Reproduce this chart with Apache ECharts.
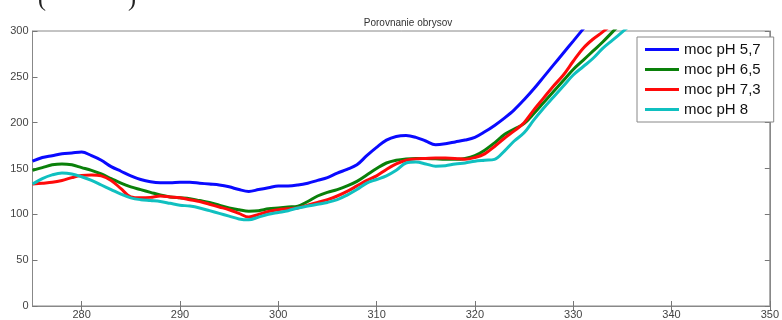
<!DOCTYPE html>
<html>
<head>
<meta charset="utf-8">
<script src="https://cdn.jsdelivr.net/npm/echarts@6/dist/echarts.min.js"></script>
<style>
  html, body { margin: 0; padding: 0; background: #fff; }
  #chart { width: 782px; height: 320px; }
</style>
</head>
<body>
<div id="chart"></div>
<script>
// Wavelength positions (x) shared by every curve
const xValues = [
  275, 276, 277, 278, 279, 280, 281, 282, 283, 284, 285, 286, 287, 288, 289,
  290, 291, 292, 293, 294, 295, 296, 297, 298, 299, 300, 301, 302, 303, 304,
  305, 306, 307, 308, 309, 310, 311, 312, 313, 314, 315, 316, 317, 318, 319,
  320, 321, 322, 323, 324, 325, 326, 327, 328, 329, 330, 331, 332, 333, 334,
  335, 336
];

// moc pH 5,7
const ph57 = [
  158, 162, 164, 166, 167, 168, 164, 159, 152, 147, 142, 138, 135.5, 134.5, 134.5,
  135, 135, 134, 133, 132, 130, 127, 125, 127, 129, 131, 131, 132, 134, 137,
  140, 145, 149, 154, 164, 173, 181, 185, 186, 184, 180, 176, 177, 179, 181,
  184, 190, 197, 205, 214, 225, 237, 250, 263, 276, 289, 302, 315
];

// moc pH 6,5
const ph65 = [
  148, 151, 154, 155, 154, 151, 148, 144, 139, 134, 130, 127, 124, 121, 119,
  118, 117, 115, 113, 110, 107, 105, 103.5, 104, 106, 107, 108, 109, 114, 120,
  124, 127, 131, 136, 143, 150, 156, 159, 160.5, 161, 161, 160.5, 160, 160, 161,
  164, 170, 178, 187, 193, 199, 210, 222, 234, 246, 258, 268, 278, 288, 299,
  310
];

// moc pH 7,3
const ph73 = [
  133, 134, 135, 137, 140, 142.5, 143, 142, 137, 128, 119, 118, 118.5, 120, 119,
  118, 116, 114, 111, 108, 105, 101, 97, 100, 103, 105, 106, 107, 110, 113,
  116, 120, 125, 131, 137, 142, 149, 155, 159, 160.5, 161, 161.5, 161.5, 161, 160,
  162, 166, 174, 183, 191, 200, 214, 227, 240, 252, 267, 281, 291, 299, 308
];

// moc pH 8
const ph8 = [
  133, 139, 143, 145, 144, 141, 137, 132, 127, 122, 118, 116, 115, 114, 112,
  110, 109, 107, 104, 101, 98, 95, 94, 97, 100, 102, 104, 107, 109, 111,
  113, 116, 121, 127, 134, 138, 142, 148, 156, 157, 155, 152.5, 153, 155, 156,
  158, 159, 160, 169, 180, 189, 203, 216, 228, 240, 252, 261, 270, 281, 290,
  299, 308
];

const seriesNames = ['moc pH 5,7', 'moc pH 6,5', 'moc pH 7,3', 'moc pH 8'];
const seriesColors = ['#0a0aff', '#0a800a', '#ff0a0a', '#10c0c0'];
const seriesValues = [ph57, ph65, ph73, ph8];

// Axis ranges and tick positions
const xRange = { min: 275, max: 350 };
const xTickValues = [280, 290, 300, 310, 320, 330, 340, 350];
const yRange = { min: 0, max: 300, interval: 50 };

const pairs = vals => vals.map((v, i) => [xValues[i], v]);

const tickLine = { color: '#777' };
const labelFont = { fontFamily: 'Liberation Sans, Arial, sans-serif', fontSize: 11, color: '#444' };
const axisLineStyle = { show: true, lineStyle: { color: '#888' } };

const chart = echarts.init(document.getElementById('chart'), null, { renderer: 'canvas' });

chart.setOption({
  animation: false,
  backgroundColor: '#fff',
  title: {
    text: 'Porovnanie obrysov',
    left: 403,
    top: 13,
    textAlign: 'center',
    textStyle: { fontFamily: 'Liberation Sans, Arial, sans-serif', fontSize: 10, fontWeight: 'normal', color: '#333' }
  },
  graphic: [
    { type: 'text', left: 38, top: -12, style: { text: '(', font: '24px "Liberation Serif", serif', fill: '#222' } },
    { type: 'text', left: 128, top: -12, style: { text: ')', font: '24px "Liberation Serif", serif', fill: '#222' } }
  ],
  grid: {
    left: 32.5, right: 8, top: 31, bottom: 13,
    show: true, borderColor: '#888', borderWidth: 1, backgroundColor: '#fff'
  },
  legend: {
    orient: 'vertical',
    left: 637, top: 37,
    padding: [4, 13, 4, 8],
    itemWidth: 34, itemHeight: 3, itemGap: 3,
    icon: 'rect',
    backgroundColor: '#fff',
    borderColor: '#888', borderWidth: 1, borderRadius: 0,
    textStyle: { fontFamily: 'Liberation Sans, Arial, sans-serif', fontSize: 15, color: '#111', lineHeight: 17 },
    data: seriesNames
  },
  xAxis: [
    {
      type: 'value', position: 'bottom', ...xRange,
      axisLine: axisLineStyle,
      axisTick: { show: true, inside: true, length: 5, lineStyle: tickLine, customValues: xTickValues },
      axisLabel: { ...labelFont, margin: 3, customValues: xTickValues },
      splitLine: { show: false }
    },
    {
      type: 'value', position: 'top', ...xRange,
      axisLine: axisLineStyle,
      axisTick: { show: true, inside: true, length: 5, lineStyle: tickLine, customValues: xTickValues },
      axisLabel: { show: false },
      splitLine: { show: false }
    }
  ],
  yAxis: [
    {
      type: 'value', position: 'left', ...yRange,
      axisLine: axisLineStyle,
      axisTick: { show: true, inside: true, length: 5, lineStyle: tickLine },
      axisLabel: { ...labelFont, margin: 4 },
      splitLine: { show: false }
    },
    {
      type: 'value', position: 'right', ...yRange,
      axisLine: axisLineStyle,
      axisTick: { show: true, inside: true, length: 5, lineStyle: tickLine },
      axisLabel: { show: false },
      splitLine: { show: false }
    }
  ],
  series: seriesNames.map((name, i) => ({
    name,
    type: 'line',
    data: pairs(seriesValues[i]),
    xAxisIndex: 0,
    yAxisIndex: 0,
    smooth: 0.35,
    symbol: 'none',
    clip: true,
    color: seriesColors[i],
    lineStyle: { width: 3, color: seriesColors[i] }
  }))
});
</script>
</body>
</html>
